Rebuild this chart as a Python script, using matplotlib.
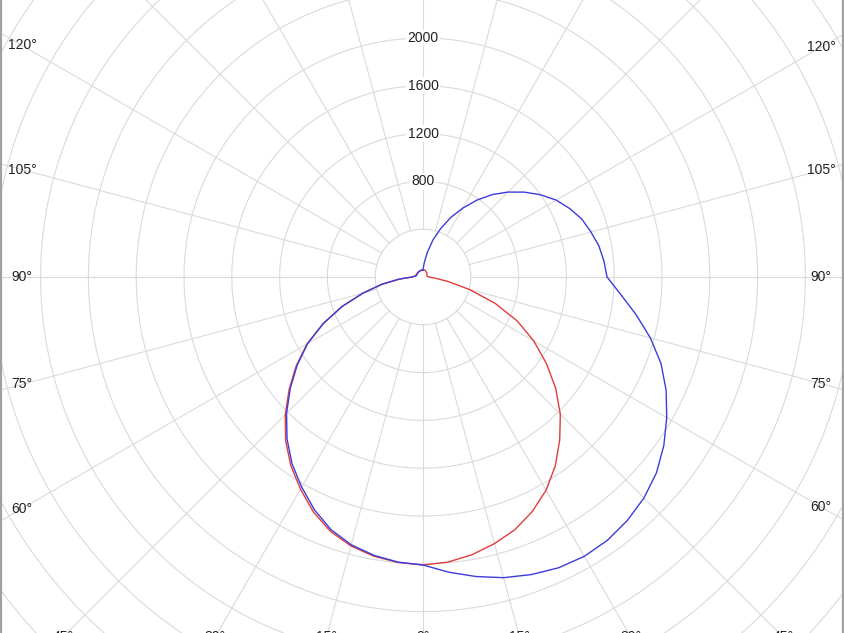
import matplotlib
matplotlib.use("Agg")
import matplotlib.pyplot as plt
from matplotlib.lines import Line2D
import numpy as np

# gamma angles (degrees from nadir), one value every 5 degrees
gamma = np.arange(0, 181, 5)

# C0 / C180 plane (red)
c0 = [2410, 2395, 2360, 2310, 2250, 2165, 2060, 1930, 1780, 1625,
      1450, 1260, 1070, 870, 640, 400, 210, 95, 50, 40,
      36, 35, 35, 36, 38, 40, 42, 45, 48, 50,
      52, 55, 57, 60, 62, 62, 60]
c180 = [2410, 2398, 2372, 2330, 2265, 2170, 2050, 1928, 1788, 1630,
        1462, 1295, 1120, 922, 720, 518, 345, 195, 95, 72,
        65, 62, 60, 58, 58, 58, 58, 58, 58, 58,
        58, 58, 58, 59, 60, 60, 60]

# C90 / C270 plane (blue)
c90 = [2410, 2480, 2545, 2605, 2650, 2685, 2699, 2690, 2660, 2615,
       2550, 2460, 2355, 2245, 2120, 1970, 1810, 1660, 1540, 1520,
       1495, 1455, 1415, 1355, 1287, 1200, 1105, 1005, 900, 785,
       665, 550, 430, 320, 210, 120, 60]
c270 = [2410, 2395, 2365, 2320, 2250, 2150, 2030, 1910, 1770, 1615,
        1450, 1285, 1115, 920, 720, 520, 350, 200, 90, 68,
        58, 55, 55, 55, 55, 55, 55, 55, 55, 56,
        56, 57, 57, 58, 58, 59, 60]

ring_values = np.arange(400, 4801, 400)
ring_labels = [800, 1200, 1600, 2000]
spoke_angles = np.arange(0, 360, 15)
side_labels = [60, 75, 90, 105, 120]
bottom_labels = [45, 30, 15, 0]

W, H = 844, 633
CX, CY = 423, 277          # pixel centre of the diagram
PX_PER_CD = 239 / 2000.0
RMAX = 4800

fig = plt.figure(figsize=(W / 100, H / 100), dpi=100)
fig.patch.set_facecolor("white")

R_px = RMAX * PX_PER_CD
ax = fig.add_axes([(CX - R_px) / W, (H - CY - R_px) / H, 2 * R_px / W, 2 * R_px / H],
                  projection="polar")
ax.set_theta_zero_location("S")
ax.set_theta_direction(1)
ax.set_rlim(0, RMAX)
ax.grid(False)
ax.set_xticks([])
ax.set_yticks([])
ax.spines["polar"].set_visible(False)
ax.patch.set_alpha(0)

grid_col = "#dadada"
tt = np.linspace(0, 2 * np.pi, 721)
for r in ring_values:
    ax.plot(tt, np.full_like(tt, r), color=grid_col, lw=0.8, zorder=1)
for a in spoke_angles:
    ax.plot([np.deg2rad(a)] * 2, [400, RMAX], color=grid_col, lw=0.8, zorder=1)

for r in ring_labels:
    ax.text(np.pi, r, str(r), ha="center", va="center", fontsize=10,
            family="Liberation Sans", color="#222222", zorder=3,
            bbox=dict(facecolor="white", edgecolor="none", pad=1.0))

g = np.deg2rad(gamma)
red_theta = np.concatenate([-g[::-1], g[1:]])
red_r = np.concatenate([np.array(c180)[::-1], np.array(c0)[1:]])
blue_theta = np.concatenate([-g[::-1], g[1:]])
blue_r = np.concatenate([np.array(c270)[::-1], np.array(c90)[1:]])

ax.plot(red_theta, red_r, color="#e03c3c", lw=1.0, zorder=4)
ax.plot(blue_theta, blue_r, color="#3c3cdc", lw=1.0, zorder=5)

# angle labels along the frame
def fig_text(px, py, s):
    fig.text(px / W, 1 - py / H, s, ha="center", va="center", fontsize=10,
             family="Liberation Sans", color="#222222")

for a in side_labels:
    rad = np.deg2rad(a)
    fig_text(22, CY + (CX - 22) * np.cos(rad) / np.sin(rad), f"{a}°")
    fig_text(821, CY + (821 - CX) * np.cos(rad) / np.sin(rad), f"{a}°")
for a in bottom_labels:
    dx = (637 - CY) * np.tan(np.deg2rad(a))
    fig_text(CX - dx, 637, f"{a}°")
    if a:
        fig_text(CX + dx, 637, f"{a}°")

# grey side borders
fig.add_artist(Line2D([0.0015, 0.0015], [0, 1], transform=fig.transFigure, color="#a0a0a0", lw=1.6))
fig.add_artist(Line2D([0.9985, 0.9985], [0, 1], transform=fig.transFigure, color="#a0a0a0", lw=1.6))

fig.savefig("out.png", dpi=100)
